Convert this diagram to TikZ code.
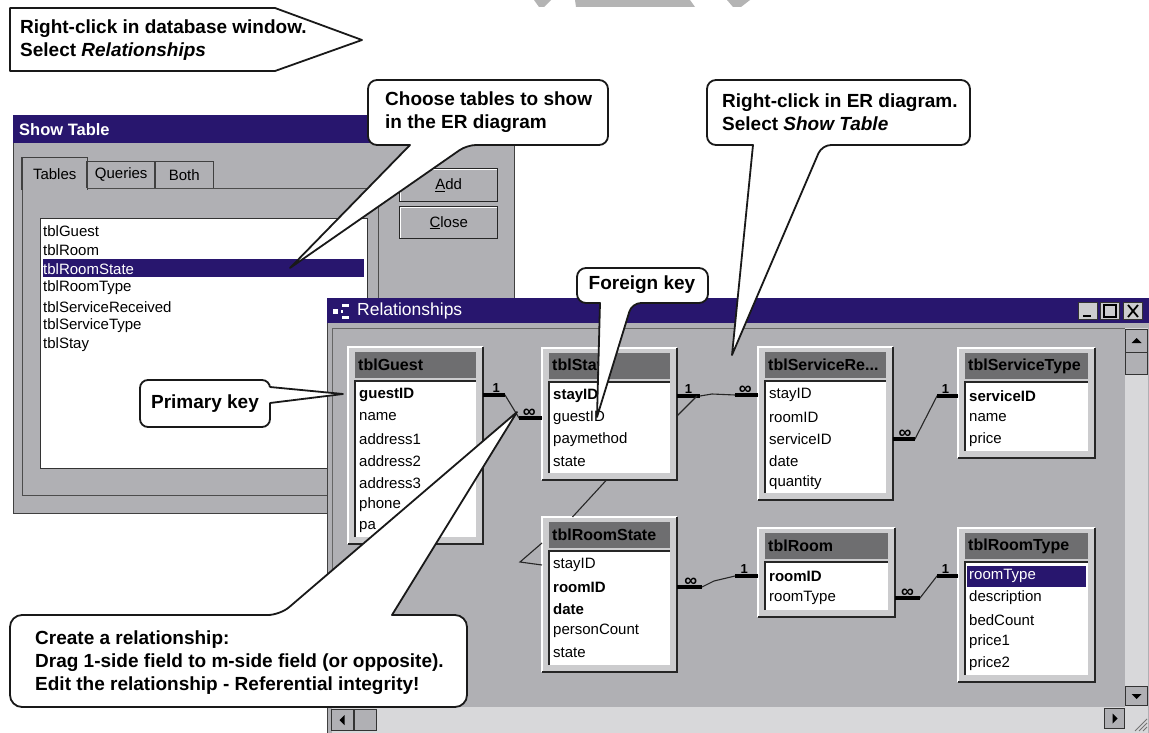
\documentclass[tikz,border=0pt]{standalone}
\usepackage{fontspec}
\setmainfont{Liberation Sans}
\usetikzlibrary{positioning,calc}

\definecolor{wingray}{RGB}{176,176,180}
\definecolor{titlenavy}{RGB}{40,22,110}
\definecolor{headgray}{RGB}{110,110,112}
\definecolor{framegray}{RGB}{204,204,206}
\definecolor{trackgray}{RGB}{216,216,218}
\definecolor{markgray}{RGB}{180,180,180}

\newcommand\callfont{\fontsize{19}{23}\selectfont\bfseries}
\newcommand\fieldfont{\fontsize{15}{17}\selectfont}
\newcommand\headfont{\fontsize{16}{18}\selectfont\bfseries}

% one table of the ER diagram: frame, grey header, white field list
\newcommand\ertable[6]{%
  \node[tframe,minimum width=#4pt,minimum height=#5pt] (#1) at (#2,#3) {};
  \draw[edgelite] (#1.south west) -- (#1.north west) -- (#1.north east);
  \draw[edgedark] (#1.north east) -- (#1.south east) -- (#1.south west);
  \node[thead,minimum width=#4pt-14pt] (#1-h) at ([xshift=7pt,yshift=-5pt]#1.north west) {};
  \node[theadtext] (#1-t) at ([xshift=3pt]#1-h.west) {#6};
  \node[tlist,minimum width=#4pt-14pt,minimum height=#5pt-41pt] (#1-l) at ([yshift=-3pt]#1-h.south west) {};
  \draw[listedge] (#1-l.south west) -- (#1-l.north west) -- (#1-l.north east);
}
% the field names, one row every 22px
\newcommand\erfields[2]{%
  \foreach \f [count=\i] in {#2}
    \node[tfield] (#1-\i) at ([xshift=4pt,yshift={-14pt-(\i-1)*22pt}]#1-l.north west) {\f};
}

\begin{document}
\begin{tikzpicture}[x=1pt,y=-1pt,
  win/.style={fill=wingray,draw=black!75,line width=1.2pt,inner sep=0pt,anchor=north west},
  titlebar/.style={fill=titlenavy,inner sep=0pt,anchor=north west},
  titletext/.style={text=white,anchor=west,inner sep=0pt},
  panel/.style={fill=wingray,draw=black!70,line width=1.2pt,inner sep=0pt,anchor=north west},
  tab/.style={fill=wingray,inner sep=0pt,font=\fieldfont,anchor=south west},
  tabedge/.style={draw=black!75,line width=1.2pt},
  listbox/.style={fill=white,draw=black!80,line width=1.2pt,inner sep=0pt,anchor=north west},
  selband/.style={fill=titlenavy,inner sep=0pt,anchor=west},
  listitem/.style={font=\fieldfont,inner sep=0pt,anchor=west},
  btn/.style={fill=wingray,draw=black!85,line width=1.4pt,inner sep=0pt,
              anchor=north west,font=\fieldfont,
              path picture={\draw[white,line width=2.4pt]
                (path picture bounding box.south west) --
                (path picture bounding box.north west) --
                (path picture bounding box.north east);}},
  winbtn/.style={fill=framegray,draw=black!80,line width=1pt,inner sep=0pt,
                 minimum width=19pt,minimum height=17pt},
  client/.style={fill=wingray,draw=black!60,line width=1pt,inner sep=0pt,anchor=north west},
  track/.style={fill=trackgray,inner sep=0pt,anchor=north west},
  sbtn/.style={fill=wingray,draw=black!80,line width=1pt,inner sep=0pt,anchor=north west},
  tframe/.style={fill=framegray,inner sep=0pt,outer sep=0pt,anchor=north west},
  edgelite/.style={draw=white,line width=2pt},
  edgedark/.style={draw=black!85,line width=2.6pt},
  thead/.style={fill=headgray,inner sep=0pt,outer sep=0pt,minimum height=26pt,anchor=north west},
  theadtext/.style={font=\headfont,inner sep=0pt,anchor=west},
  tlist/.style={fill=white,inner sep=0pt,outer sep=0pt,anchor=north west},
  listedge/.style={draw=black!85,line width=2pt},
  tfield/.style={font=\fieldfont,inner sep=0pt,anchor=west},
  rel/.style={draw=black!85,line width=1.1pt},
  stub/.style={draw=black,line width=3.2pt},
  card/.style={above=0pt,inner sep=1pt,font=\fontsize{13}{13}\selectfont\bfseries},
  many/.style={card,font=\fontsize{18}{18}\selectfont\bfseries,above=-2pt},
  bubble/.style={fill=white,draw=black!90,line width=1.8pt,rounded corners=9pt,line join=round},
  tailline/.style={draw=black!90,line width=1.8pt,line join=round},
  calltext/.style={font=\callfont,align=left,inner sep=0pt,anchor=west},
]
\useasboundingbox (0,0) rectangle (1149,733);
\fill[white] (0,0) rectangle (1149,733);

% bits of a grey mark cut off at the top edge
\fill[markgray] (534,0) -- (551,0) -- (544,7) -- (539,7) -- cycle;
\fill[markgray] (575,0) -- (690,0) -- (695,7) -- (576,7) -- cycle;
\fill[markgray] (727,0) -- (750,0) -- (741,7) -- (733,7) -- cycle;

% ---- Show Table dialog
\node[win,minimum width=501pt,minimum height=398pt] (showwin) at (13,115) {};
\node[titlebar,minimum width=501pt,minimum height=28pt] (showbar) at (13,115) {};
\node[titletext,font=\fontsize{16.5}{18}\selectfont\bfseries] (showtitle)
     at ([xshift=6pt]showbar.west) {Show Table};

\node[panel,minimum width=356pt,minimum height=307pt] (tabpage) at (22,188) {};
\node[tab,minimum width=65pt,minimum height=32pt] (tabtables) at (22,190) {Tables};
\node[tab,minimum width=68pt,minimum height=26pt] (tabqueries) at (87,188) {Queries};
\node[tab,minimum width=58pt,minimum height=26pt] (tabboth) at (155,188) {Both};
\foreach \t in {tabtables,tabqueries,tabboth}
  \draw[tabedge] (\t.south west) -- (\t.north west) -- (\t.north east) -- (\t.south east);

\node[listbox,minimum width=327pt,minimum height=250pt] (tablelist) at (40,218) {};
\node[selband,minimum width=321pt,minimum height=18pt] (selrow)
     at ([xshift=3pt,yshift=-50pt]tablelist.north west) {};
\foreach \t [count=\i] in {tblGuest,tblRoom,tblRoomState,tblRoomType,
                           tblServiceReceived,tblServiceType,tblStay} {
  \ifnum\i=3 \def\tcol{white}\else\def\tcol{black}\fi
  \node[listitem,text=\tcol] (item-\i)
       at ([xshift=3pt,yshift={-13pt-(\i-1)*19pt}]tablelist.north west) {\t};
}

\node[btn,minimum width=98pt,minimum height=33pt] (addbtn) at (399,168) {\underline{A}dd};
\node[btn,minimum width=98pt,minimum height=32pt] (closebtn) at (399,206) {\underline{C}lose};

% ---- Relationships window
\node[win,minimum width=822pt,minimum height=435pt] (relwin) at (327,298) {};
\node[titlebar,minimum width=822pt,minimum height=25pt] (relbar) at (327,298) {};
\fill[white] (333,309) rectangle (338,314);
\fill[white] (342,304) rectangle (349,307);
\fill[white] (342,316) rectangle (349,319);
\fill[white] (341,310) rectangle (343,313);
\node[titletext,font=\fontsize{17.5}{19}\selectfont] (reltitle)
     at ([xshift=30pt]relbar.west) {Relationships};

\node[winbtn] (minbtn) at (1088,311) {};
\node[winbtn] (maxbtn) at (1110,311) {};
\node[winbtn] (xbtn) at (1133,311) {};
\draw[line width=2.2pt] ([xshift=-5pt,yshift=-5pt]minbtn.center) -- ++(8,0);
\draw[line width=1.1pt] ([xshift=-6pt,yshift=-6pt]maxbtn.center) rectangle ([xshift=6pt,yshift=6pt]maxbtn.center);
\draw[line width=2.4pt] ([xshift=-6pt,yshift=6pt]maxbtn.center) -- ([xshift=6pt,yshift=6pt]maxbtn.center);
\draw[line width=1.8pt] ([xshift=-5pt,yshift=6pt]xbtn.center) -- ([xshift=5pt,yshift=-6pt]xbtn.center)
                        ([xshift=5pt,yshift=6pt]xbtn.center) -- ([xshift=-5pt,yshift=-6pt]xbtn.center);

\node[client,minimum width=793pt,minimum height=380pt] (canvas) at (332,328) {};

% scroll bars
\node[track,minimum width=23pt,minimum height=405pt] (vscroll) at (1125,328) {};
\node[track,minimum width=793pt,minimum height=26pt] (hscroll) at (332,707) {};
\node[sbtn,minimum width=22pt,minimum height=23pt] (upbtn) at (1125,329) {};
\node[sbtn,minimum width=22pt,minimum height=22pt] (vthumb) at (1125,352) {};
\node[sbtn,minimum width=22pt,minimum height=19pt] (downbtn) at (1125,686) {};
\node[sbtn,minimum width=22pt,minimum height=21pt] (leftbtn) at (331,709) {};
\node[sbtn,minimum width=22pt,minimum height=21pt] (hthumb) at (354,709) {};
\node[sbtn,minimum width=20pt,minimum height=20pt] (rightbtn) at (1104,708) {};
\fill ([yshift=3pt]upbtn.center) -- ([xshift=-5pt,yshift=-2pt]upbtn.center) -- ([xshift=5pt,yshift=-2pt]upbtn.center) -- cycle;
\fill ([yshift=-3pt]downbtn.center) -- ([xshift=-5pt,yshift=2pt]downbtn.center) -- ([xshift=5pt,yshift=2pt]downbtn.center) -- cycle;
\fill ([xshift=-3pt]leftbtn.center) -- ([xshift=2pt,yshift=5pt]leftbtn.center) -- ([xshift=2pt,yshift=-5pt]leftbtn.center) -- cycle;
\fill ([xshift=3pt]rightbtn.center) -- ([xshift=-2pt,yshift=5pt]rightbtn.center) -- ([xshift=-2pt,yshift=-5pt]rightbtn.center) -- cycle;
\foreach \d in {4,8,12}
  \draw[black!55,line width=1pt] (1147-\d,731) -- (1147,731-\d);

% ---- the tables
\ertable{guest}{348}{347}{135}{197}{tblGuest}
\erfields{guest}{\textbf{guestID},name,address1,address2,address3,phone,pa}
\ertable{stay}{542}{348}{135}{132}{tblStay}
\erfields{stay}{\textbf{stayID},guestID,paymethod,state}
\ertable{svcrec}{758}{347}{135}{153}{tblServiceRe...}
\erfields{svcrec}{stayID,roomID,serviceID,date,quantity}
\ertable{svctype}{958}{348}{137}{110}{tblServiceType}
\erfields{svctype}{\textbf{serviceID},name,price}
\ertable{rstate}{542}{517}{135}{155}{tblRoomState}
\erfields{rstate}{stayID,\textbf{roomID},\textbf{date},personCount,state}
\ertable{room}{758}{528}{137}{89}{tblRoom}
\erfields{room}{\textbf{roomID},roomType}
\ertable{rtype}{958}{528}{137}{154}{tblRoomType}
\node[selband,minimum width=119pt,minimum height=21pt] (rtype-sel)
     at ([xshift=2pt,yshift=-14pt]rtype-l.north west) {};
\erfields{rtype}{\textcolor{white}{roomType},description,bedCount,price1,price2}

% ---- relationships (1 side / many side)
% guest -> stay
\draw[rel] (guest.east |- guest-1) -- ++(22,0) -- ([xshift=-23pt]stay.west |- stay-2) -- (stay.west |- stay-2);
\draw[stub] (guest.east |- guest-1) -- ++(22,0) node[card,pos=0.6] {1};
\draw[stub] (stay.west |- stay-2) -- ++(-23,0) node[many,pos=0.55] {∞};
% stay -> service received
\draw[rel] (stay.east |- stay-1) -- ++(23,0) -- ++(12,-2) -- ([xshift=-23pt]svcrec.west |- svcrec-1) -- (svcrec.west |- svcrec-1);
\draw[stub] (stay.east |- stay-1) -- ++(23,0) node[card,pos=0.5] {1};
\draw[stub] (svcrec.west |- svcrec-1) -- ++(-23,0) node[many,pos=0.55] {∞};
% stay -> room state (runs behind tblStay)
\draw[rel] ([xshift=20pt]stay.east |- stay-1) -- ([yshift=2pt]stay.east |- stay-2);
\draw[rel] ([xshift=-3pt]stay.south) -- ([xshift=-37pt]rstate.north);
\draw[rel] ([yshift=-8pt]rstate.west |- rstate-h) -- ++(-22,19) -- (rstate.west |- rstate-1);
% service received -> service type
\draw[rel] (svcrec.east |- svcrec-3) -- ++(22,0) -- ([xshift=-21pt]svctype.west |- svctype-1) -- (svctype.west |- svctype-1);
\draw[stub] (svcrec.east |- svcrec-3) -- ++(22,0) node[many,pos=0.55] {∞};
\draw[stub] (svctype.west |- svctype-1) -- ++(-21,0) node[card,pos=0.6] {1};
% room state -> room
\draw[rel] (rstate.east |- rstate-2) -- ++(25,0) -- ++(12,-6) -- ([xshift=-23pt]room.west |- room-1) -- (room.west |- room-1);
\draw[stub] (rstate.east |- rstate-2) -- ++(25,0) node[many,pos=0.55] {∞};
\draw[stub] (room.west |- room-1) -- ++(-23,0) node[card,pos=0.6] {1};
% room -> room type
\draw[rel] (room.east |- room-2) -- ++(25,0) -- ([xshift=-21pt]rtype.west |- rtype-1) -- (rtype.west |- rtype-1);
\draw[stub] (room.east |- room-2) -- ++(25,0) node[many,pos=0.5] {∞};
\draw[stub] (rtype.west |- rtype-1) -- ++(-21,0) node[card,pos=0.6] {1};

% ---- callouts
\draw[bubble,sharp corners] (10,8) -- (275,8) -- (362,40) -- (275,71) -- (10,71) -- cycle;
\node[calltext] (relmenu) at (20,40) {Right-click in database window.\\Select \textit{Relationships}};

\draw[bubble] (368,112) -- (368,80) -- (608,80) -- (608,145) -- (467,145)
      [sharp corners] -- (290,268) -- (410,145) [rounded corners=9pt] -- (368,145) -- cycle;
\node[calltext] (choose) at (385,112) {Choose tables to show\\in the ER diagram};

\draw[bubble] (707,112) -- (707,80) -- (970,80) -- (970,145) -- (822,145)
      [sharp corners] -- (732,355) -- (753,145) [rounded corners=9pt] -- (707,145) -- cycle;
\node[calltext] (showmenu) at (722,112) {Right-click in ER diagram.\\Select \textit{Show Table}};

\draw[bubble] (577,285) -- (577,268) -- (708,268) -- (708,303) -- (632,303)
      [sharp corners] -- (597,417) -- (600,303) [rounded corners=9pt] -- (577,303) -- cycle;
\node[calltext,anchor=center] (fkey) at (642,285) {Foreign key};

% primary key: box, then the tail laid over its right edge
\draw[bubble,rounded corners=8pt] (140,380) rectangle (270,427);
\fill[white] (266,387) -- (343,394) -- (266,403) -- cycle;
\draw[tailline] (270,387) -- (343,394) -- (270,403);
\node[calltext,anchor=center] (pkey) at (205,404) {Primary key};

\draw[bubble,rounded corners=12pt] (10,660) -- (10,615) -- (280,615)
      [sharp corners] -- (517,412) -- (392,615) [rounded corners=12pt] -- (467,615) -- (467,707) -- (10,707) -- cycle;
\node[calltext] (makerel) at (35,663) {Create a relationship:\\Drag 1-side field to m-side field (or opposite).\\Edit the relationship - Referential integrity!};

\end{tikzpicture}
\end{document}
